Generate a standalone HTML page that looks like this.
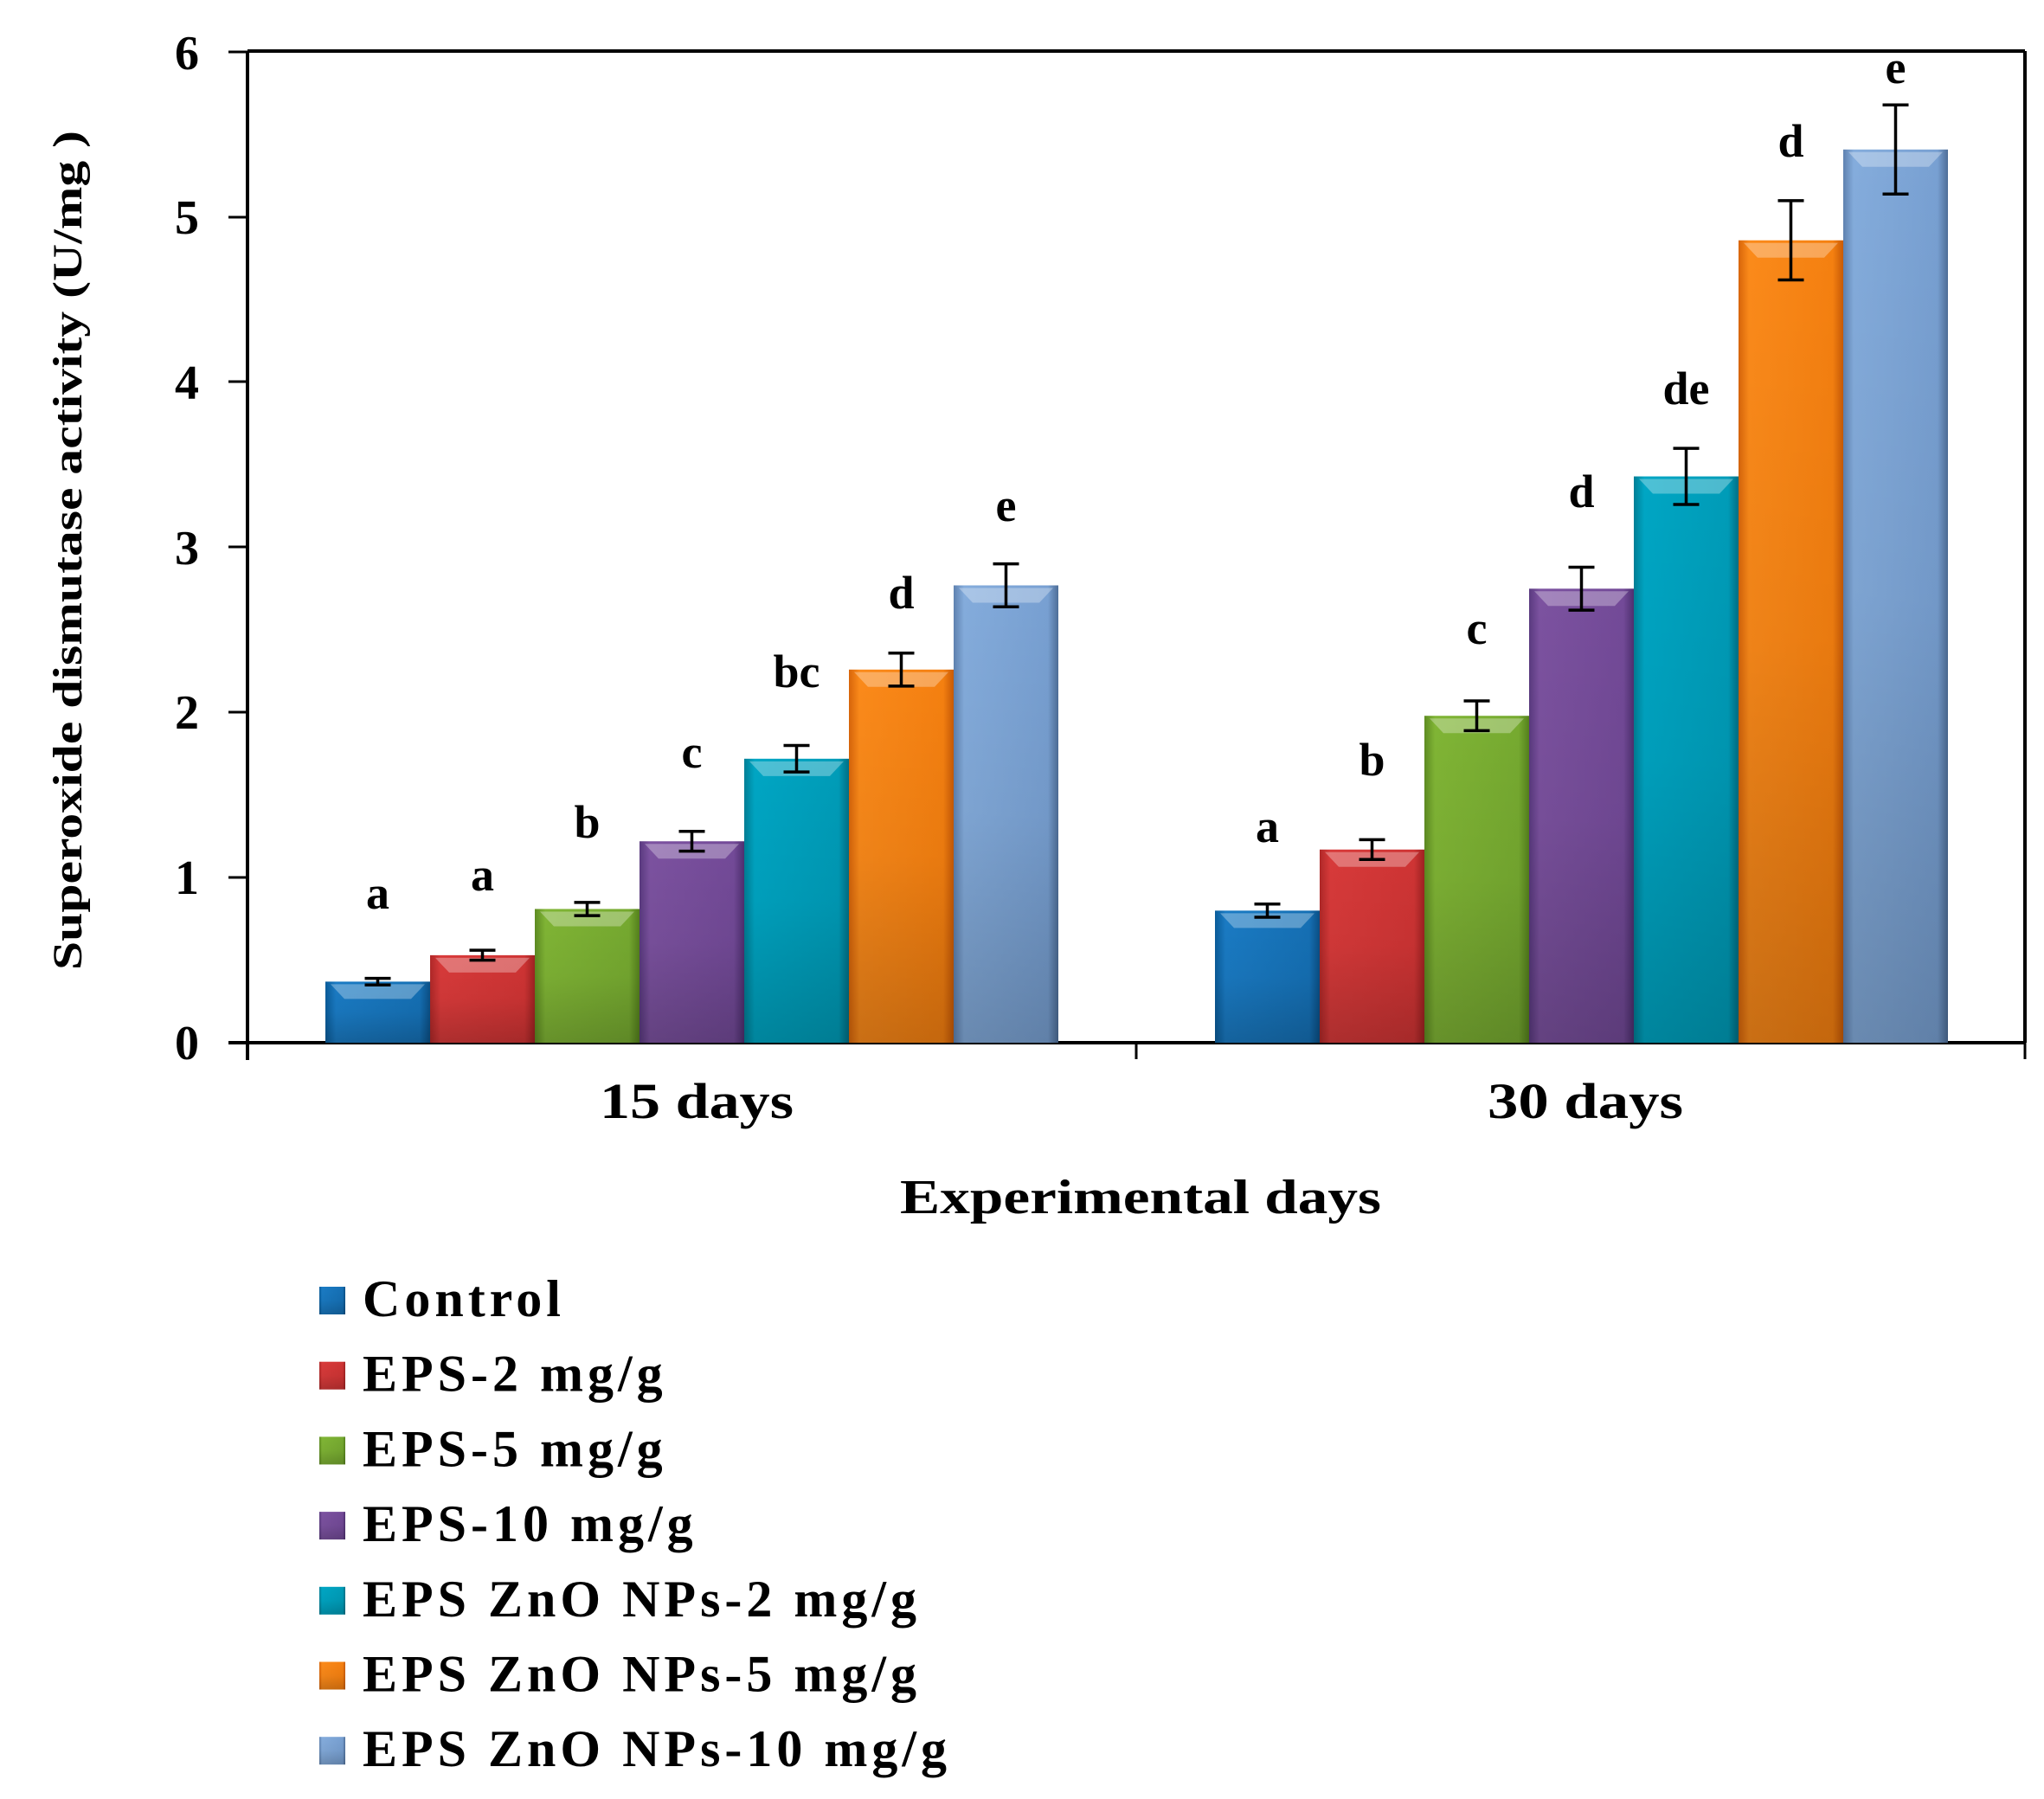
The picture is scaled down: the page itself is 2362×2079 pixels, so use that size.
<!DOCTYPE html>
<html><head><meta charset="utf-8"><style>
html,body{margin:0;padding:0;background:#fff;}
svg{display:block;}
text{font-family:"Liberation Serif",serif;font-weight:bold;fill:#000;}
</style></head><body>
<svg width="2362" height="2079" viewBox="0 0 2362 2079" xmlns="http://www.w3.org/2000/svg">
<defs>
<linearGradient id="g0" x1="0" x2="1"><stop offset="0" stop-color="#0a5c9a"/><stop offset="0.1" stop-color="#1a7bc4"/><stop offset="0.9" stop-color="#1570b5"/><stop offset="1" stop-color="#0b4f85"/></linearGradient>
<linearGradient id="g1" x1="0" x2="1"><stop offset="0" stop-color="#b02828"/><stop offset="0.1" stop-color="#d83a3a"/><stop offset="0.9" stop-color="#cf3434"/><stop offset="1" stop-color="#9e2222"/></linearGradient>
<linearGradient id="g2" x1="0" x2="1"><stop offset="0" stop-color="#5e8c22"/><stop offset="0.1" stop-color="#80b535"/><stop offset="0.9" stop-color="#76aa30"/><stop offset="1" stop-color="#54801c"/></linearGradient>
<linearGradient id="g3" x1="0" x2="1"><stop offset="0" stop-color="#5a3a80"/><stop offset="0.1" stop-color="#7c52a0"/><stop offset="0.9" stop-color="#734a98"/><stop offset="1" stop-color="#4e3070"/></linearGradient>
<linearGradient id="g4" x1="0" x2="1"><stop offset="0" stop-color="#007f96"/><stop offset="0.1" stop-color="#00a6c4"/><stop offset="0.9" stop-color="#009cb8"/><stop offset="1" stop-color="#006f85"/></linearGradient>
<linearGradient id="g5" x1="0" x2="1"><stop offset="0" stop-color="#d8650a"/><stop offset="0.1" stop-color="#fb8a1a"/><stop offset="0.9" stop-color="#f58010"/><stop offset="1" stop-color="#c85a06"/></linearGradient>
<linearGradient id="g6" x1="0" x2="1"><stop offset="0" stop-color="#5f82b0"/><stop offset="0.1" stop-color="#84acdc"/><stop offset="0.9" stop-color="#78a0d2"/><stop offset="1" stop-color="#4e6e98"/></linearGradient>
<linearGradient id="dv" x1="0" x2="0" y1="0" y2="1"><stop offset="0" stop-color="#000" stop-opacity="0"/><stop offset="0.5" stop-color="#000" stop-opacity="0.05"/><stop offset="1" stop-color="#000" stop-opacity="0.2"/></linearGradient>
</defs>

<line x1="286" y1="59" x2="2340" y2="59" stroke="#000" stroke-width="4"/>
<line x1="2340" y1="59" x2="2340" y2="1205" stroke="#000" stroke-width="4"/>
<line x1="286" y1="59" x2="286" y2="1225" stroke="#000" stroke-width="4"/>
<line x1="264" y1="1205" x2="2340" y2="1205" stroke="#000" stroke-width="4"/>
<g stroke="#000" stroke-width="3">
<line x1="264" y1="60" x2="286" y2="60"/><line x1="264" y1="251" x2="286" y2="251"/><line x1="264" y1="441" x2="286" y2="441"/><line x1="264" y1="632" x2="286" y2="632"/><line x1="264" y1="823" x2="286" y2="823"/><line x1="264" y1="1014" x2="286" y2="1014"/>
<line x1="1313" y1="1205" x2="1313" y2="1224"/><line x1="2340" y1="1205" x2="2340" y2="1224"/>
</g>
<g font-size="56" text-anchor="end">
<text x="230" y="1224">0</text><text x="230" y="1033">1</text><text x="230" y="842">2</text><text x="230" y="652">3</text><text x="230" y="461">4</text><text x="230" y="270">5</text><text x="230" y="80">6</text>
</g>

<text transform="translate(94,636) rotate(-90)" font-size="48" text-anchor="middle" textLength="970" lengthAdjust="spacingAndGlyphs">Superoxide  dismutase  activity (U/mg )</text>

<g id="bars"></g>
<g id="err" stroke="#000" stroke-width="3.5"></g>
<g id="lbl" font-size="54" text-anchor="middle"></g>

<text x="805" y="1292" font-size="58" text-anchor="middle" textLength="224" lengthAdjust="spacingAndGlyphs">15 days</text>
<text x="1832" y="1292" font-size="58" text-anchor="middle" textLength="226" lengthAdjust="spacingAndGlyphs">30 days</text>
<text x="1318" y="1402" font-size="56" text-anchor="middle" textLength="556" lengthAdjust="spacingAndGlyphs">Experimental  days</text>

<g id="leg" font-size="60"></g>

<script>
var NS="http://www.w3.org/2000/svg";
function el(p,t,a,txt){var e=document.createElementNS(NS,t);for(var k in a)e.setAttribute(k,a[k]);if(txt)e.textContent=txt;p.appendChild(e);return e;}
var y0=1205,u=190.8,w=121;
var data=[
 {x:376,v:[0.37,0.53,0.81,1.22,1.72,2.26,2.77],e:[0.02,0.03,0.04,0.06,0.08,0.1,0.13],l:["a","a","b","c","bc","d","e"],ly:[1050,1029,968,887,794,703,602]},
 {x:1404,v:[0.8,1.17,1.98,2.75,3.43,4.86,5.41],e:[0.04,0.06,0.09,0.13,0.17,0.24,0.27],l:["a","b","c","d","de","d","e"],ly:[973,896,744,586,467,181,96]}];
var B=document.getElementById("bars"),E=document.getElementById("err"),L=document.getElementById("lbl");
data.forEach(function(g){
 for(var i=0;i<7;i++){
  var x=g.x+i*w,h=g.v[i]*u,top=y0-h;
  el(B,"rect",{x:x,y:top,width:w,height:h,fill:"url(#g"+i+")"});
  el(B,"rect",{x:x,y:top,width:w,height:h,fill:"url(#dv)"});
  el(B,"polygon",{points:(x+6)+","+(top+3)+" "+(x+w-6)+","+(top+3)+" "+(x+w-22)+","+(top+20)+" "+(x+22)+","+(top+20),fill:"#fff","fill-opacity":"0.3"});
  var cx=x+w/2,eh=g.e[i]*u;
  el(E,"line",{x1:cx,y1:top-eh,x2:cx,y2:top+eh});
  el(E,"line",{x1:cx-15,y1:top-eh,x2:cx+15,y2:top-eh});
  el(E,"line",{x1:cx-15,y1:top+eh,x2:cx+15,y2:top+eh});
  el(L,"text",{x:cx,y:g.ly[i]},g.l[i]);
 }
});
var names=["Control","EPS-2 mg/g","EPS-5 mg/g","EPS-10 mg/g","EPS ZnO NPs-2 mg/g","EPS ZnO NPs-5 mg/g","EPS ZnO NPs-10 mg/g"];
var G=document.getElementById("leg");
for(var i=0;i<7;i++){
 var by=1521+i*86.7;
 el(G,"rect",{x:369,y:by-34,width:30,height:32,fill:"url(#g"+i+")"});
 el(G,"rect",{x:369,y:by-34,width:30,height:32,fill:"url(#dv)"});
 el(G,"text",{x:419,y:by,"letter-spacing":"5"},names[i]);
}
</script>
</svg>
</body></html>
